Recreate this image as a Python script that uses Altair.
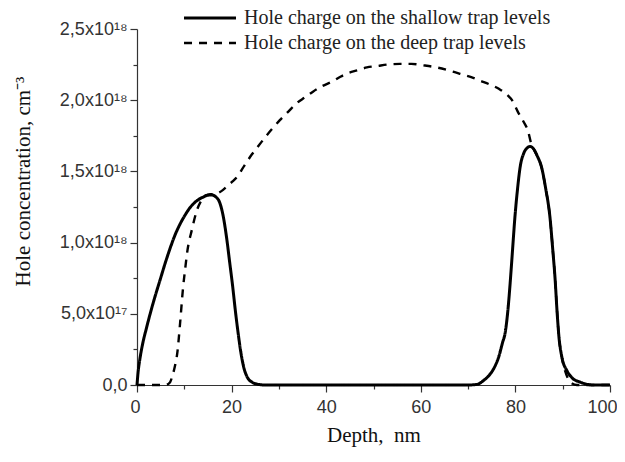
import altair as alt
import pandas as pd

# Depth (nm) and hole concentration (units of 1e18 cm^-3)
shallow_depth = [0, 0.2, 0.6, 1.2, 2.0, 2.7, 3.8, 4.9, 6.0, 7.0, 8.0, 9.1, 10.2, 11.2, 12.5, 14.0,
                 15.0, 15.8, 16.7, 17.5, 18.2, 19.0, 19.6, 20.2, 20.8, 21.4, 22.0, 22.6, 23.3,
                 24.3, 25.4, 27.0, 30, 40, 50, 60, 70, 72.0, 73.2, 74.5, 75.5, 76.5, 77.3,
                 77.8, 78.4, 78.9, 79.4, 79.9, 80.4, 81.0, 81.8, 82.5, 83.1, 83.8, 84.6, 85.6,
                 86.4, 87.3, 87.9, 88.4, 88.8, 89.2, 89.8, 90.9, 92.0, 93.7, 95.0, 96.5, 100]
shallow_conc = [0, 0.08, 0.18, 0.29, 0.40, 0.49, 0.62, 0.74, 0.86, 0.96, 1.05, 1.13, 1.195,
                1.245, 1.29, 1.32, 1.333, 1.334, 1.32, 1.28, 1.19, 1.02, 0.86, 0.70, 0.52,
                0.36, 0.22, 0.12, 0.056, 0.02, 0.006, 0, 0, 0, 0, 0, 0, 0.005, 0.03, 0.07,
                0.12, 0.2, 0.3, 0.36, 0.52, 0.72, 0.95, 1.18, 1.36, 1.53, 1.63, 1.665, 1.675,
                1.66, 1.61, 1.52, 1.38, 1.18, 0.95, 0.74, 0.52, 0.34, 0.2, 0.1, 0.05, 0.02,
                0.006, 0, 0]

deep_depth = [0, 6.0, 7.0, 7.4, 8.0, 8.5, 9.1, 9.7, 10.2, 10.6, 11.6, 12.7, 13.5, 14.5, 15.5,
              16.5, 17.3, 18.2, 19.2, 20.2, 21.1, 22.7, 24.3, 25.7, 27.1, 28.6, 30.2, 32.0,
              33.8, 35.5, 37.2, 39.2, 41.2, 43.0, 44.6, 46.6, 48.6, 50.8, 52.9, 55.6, 58.0,
              60.5, 63.4, 66.8, 68.8, 70.8, 72.7, 74.6, 76.5, 78.2, 79.5, 80.5, 81.7, 82.7,
              83.3, 83.8, 84.6, 85.6, 86.4, 87.3, 87.9, 88.4, 88.8, 89.2, 89.8, 90.5, 91.2,
              92.0, 93.0, 100]
deep_conc = [0, 0, 0.02, 0.056, 0.13, 0.22, 0.43, 0.67, 0.82, 0.93, 1.09, 1.23, 1.29, 1.33,
             1.34, 1.34, 1.35, 1.37, 1.40, 1.43, 1.46, 1.54, 1.62, 1.68, 1.74, 1.80, 1.86,
             1.92, 1.98, 2.02, 2.06, 2.10, 2.13, 2.165, 2.19, 2.21, 2.23, 2.24, 2.25, 2.255,
             2.255, 2.245, 2.23, 2.20, 2.18, 2.16, 2.135, 2.11, 2.08, 2.04, 1.99, 1.92, 1.85,
             1.78, 1.70, 1.66, 1.61, 1.52, 1.38, 1.18, 0.95, 0.74, 0.52, 0.34, 0.2, 0.1, 0.04,
             0.01, 0, 0]

series_names = ["Hole charge on the shallow trap levels", "Hole charge on the deep trap levels"]

x_ticks = [0, 10, 20, 30, 40, 50, 60, 70, 80, 90, 100]
y_ticks = [0, 0.25, 0.5, 0.75, 1.0, 1.25, 1.5, 1.75, 2.0, 2.25, 2.5]

df = pd.concat([
    pd.DataFrame({"depth": shallow_depth, "conc": shallow_conc, "series": series_names[0], "order": range(len(shallow_depth))}),
    pd.DataFrame({"depth": deep_depth, "conc": deep_conc, "series": series_names[1], "order": range(len(deep_depth))}),
])

serif = "Liberation Serif"
sans = "Liberation Sans"

y_label_expr = ("datum.value == 0 ? '0,0' : datum.value == 0.5 ? '5,0x10\u00b9\u2077' : "
                "(datum.value * 2) % 1 == 0 ? replace(format(datum.value, '.1f'), '.', ',') + 'x10\u00b9\u2078' : ''")

chart = alt.Chart(df).mark_line(color="black", interpolate="monotone").encode(
    x=alt.X("depth:Q", scale=alt.Scale(domain=[0, 100], nice=False),
            axis=alt.Axis(values=x_ticks, title="Depth, \u00a0nm", grid=False,
                          labelFlush=True, labelFlushOffset=7,
                          labelExpr="datum.value % 20 == 0 ? datum.label : ''",
                          tickSize={"condition": {"test": "datum.value % 20 != 0", "value": 4}, "value": 7},
                          labelPadding=6, titlePadding=8)),
    y=alt.Y("conc:Q", scale=alt.Scale(domain=[0, 2.5], nice=False),
            axis=alt.Axis(values=y_ticks, title="Hole concentration, cm\u207b\u00b3", grid=False,
                          labelExpr=y_label_expr, labelFlush=False,
                          tickSize={"condition": {"test": "(datum.value * 2) % 1 != 0", "value": 4}, "value": 7},
                          labelPadding=3, titleY=152, titleX=-104)),
    strokeDash=alt.StrokeDash("series:N", sort=series_names,
                              scale=alt.Scale(domain=series_names, range=[[1, 0], [8, 7]]),
                              legend=alt.Legend(title=None, orient="none", legendX=63, legendY=-21,
                                                symbolType="M-5,0H5", symbolSize=108,
                                                symbolStrokeWidth=2, symbolStrokeColor="black",
                                                labelFont=serif, labelFontSize=20, labelColor="#222",
                                                labelOffset=24, rowPadding=5, padding=0,
                                                labelLimit=500)),
    strokeWidth=alt.StrokeWidth("series:N", scale=alt.Scale(domain=series_names, range=[3, 2.4]),
                                legend=None),
    order="order:Q",
).properties(
    width=473, height=356,
    autosize=alt.AutoSizeParams(type="none"),
    padding={"left": 129, "top": 21, "right": 7, "bottom": 69},
).configure_view(stroke=None).configure_axis(
    domainColor="#333", tickColor="#333", labelFont=sans, labelFontSize=18, labelColor="#333",
    titleFont=serif, titleFontSize=21, titleFontWeight="normal", titleColor="#111",
    domainWidth=1.2, tickWidth=1.2,
)

chart.save("out.html", embed_options={"renderer": "svg", "actions": False})
